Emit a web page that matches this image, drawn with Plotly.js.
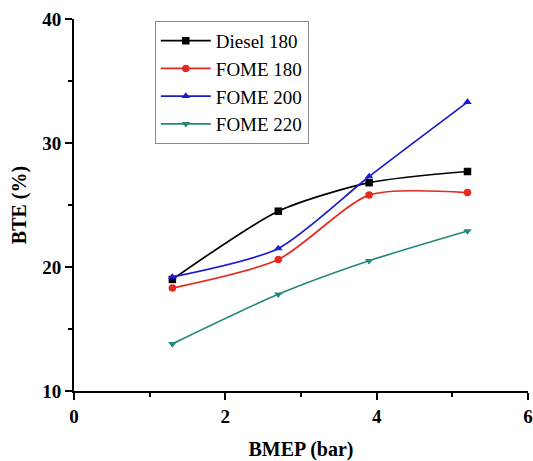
<!DOCTYPE html>
<html><head><meta charset="utf-8">
<script src="https://cdn.plot.ly/plotly-3.0.1.min.js"></script>
<style>html,body{margin:0;padding:0;background:#fff}</style>
</head><body>
<div id="chart" style="width:533px;height:461px"></div>
<script>
const bmep = [1.3, 2.7, 3.9, 5.2];
const diesel180 = [19.0, 24.5, 26.8, 27.7];
const fome180 = [18.3, 20.6, 25.8, 26.0];
const fome200 = [19.2, 21.5, 27.3, 33.3];
const fome220 = [13.8, 17.8, 20.5, 22.9];
const seriesNames = ['Diesel 180', 'FOME 180', 'FOME 200', 'FOME 220'];
const seriesData = [diesel180, fome180, fome200, fome220];
const colors = ['#000000', '#e42a1e', '#1a1ad0', '#24897a'];
const symbols = ['square', 'circle', 'triangle-up', 'triangle-down'];

const traces = seriesData.map((ys, i) => ({
  x: bmep, y: ys, name: seriesNames[i], type: 'scatter', mode: 'lines+markers',
  line: {color: colors[i], width: 1.7, shape: 'spline', smoothing: 0.7},
  marker: {color: colors[i], symbol: symbols[i], size: 7.5}
}));

const font = {family: '"Liberation Serif", "Times New Roman", serif', color: '#000'};
const layout = {
  width: 533, height: 461,
  margin: {l: 74, r: 5, t: 19, b: 70},
  paper_bgcolor: '#fff', plot_bgcolor: '#fff',
  showlegend: true,
  legend: {x: 0.178, y: 0.995, xanchor: 'left', yanchor: 'top',
    bgcolor: '#fff', bordercolor: '#888', borderwidth: 1,
    font: Object.assign({}, font, {size: 19}), itemwidth: 50, tracegroupgap: 0},
  xaxis: {range: [0, 6], dtick: 2, showgrid: false, zeroline: false,
    showline: true, linecolor: '#000', linewidth: 2,
    ticks: 'outside', ticklen: 7, tickwidth: 2, tickcolor: '#000',
    minor: {dtick: 1, ticks: 'outside', ticklen: 4, tickwidth: 2, tickcolor: '#000'},
    tickfont: Object.assign({}, font, {size: 19, weight: 'bold'}),
    title: {text: '<b>BMEP (bar)</b>', font: Object.assign({}, font, {size: 20}), standoff: 20}},
  yaxis: {range: [10, 40], dtick: 10, showgrid: false, zeroline: false,
    showline: true, linecolor: '#000', linewidth: 2,
    ticks: 'outside', ticklen: 7, tickwidth: 2, tickcolor: '#000',
    minor: {dtick: 5, ticks: 'outside', ticklen: 4, tickwidth: 2, tickcolor: '#000'},
    tickfont: Object.assign({}, font, {size: 19, weight: 'bold'}),
    title: {text: '<b>BTE (%)</b>', font: Object.assign({}, font, {size: 20}), standoff: 10}}
};
Plotly.newPlot('chart', traces, layout, {displayModeBar: false, staticPlot: true});
</script>
</body></html>
